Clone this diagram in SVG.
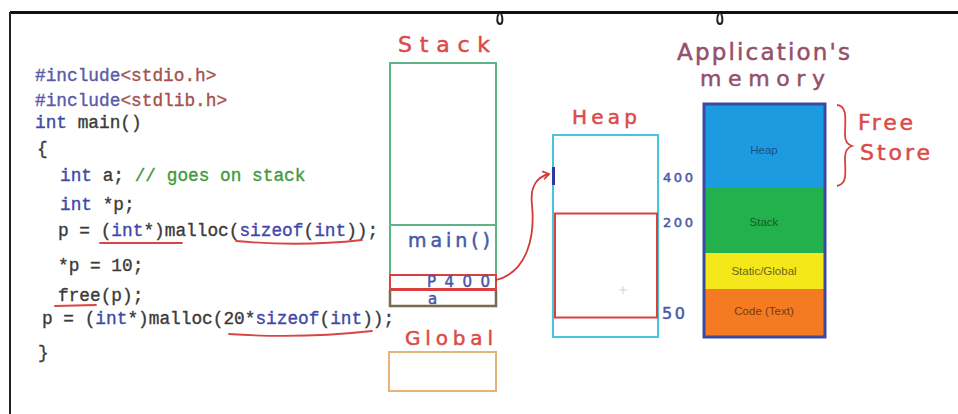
<svg xmlns="http://www.w3.org/2000/svg" width="958" height="414" viewBox="0 0 958 414">
<defs>
<style>
.code{font-family:"Liberation Mono","DejaVu Sans Mono",monospace;font-size:17.8px;fill:#3a3a3a;stroke:#3a3a3a;stroke-width:0.35;}
.kw{fill:#3f48a8;stroke:#3f48a8;}
.pp{fill:#5a5aa8;stroke:#5a5aa8;}
.str{fill:#a5524e;stroke:#a5524e;}
.cm{fill:#3f9a3f;stroke:#3f9a3f;}
.hand{font-family:"DejaVu Sans","Liberation Sans",sans-serif;stroke-width:0.5;}
.red{fill:#dc4a46;stroke:#dc4a46;}
.blue{fill:#4a58a8;stroke:#4a58a8;}
.ul{fill:none;stroke:#d84545;stroke-width:1.8;stroke-linecap:round;}
.seg{font-family:"Liberation Sans",Arial,sans-serif;font-size:11.5px;text-anchor:middle;}
</style>
<marker id="ah" markerWidth="10" markerHeight="10" refX="7" refY="5" orient="auto" markerUnits="userSpaceOnUse">
<path d="M1,1 L7,5 L1,9" fill="none" stroke="#d03a3a" stroke-width="1.8"/>
</marker>
</defs>
<rect width="958" height="414" fill="#ffffff"/>
<g id="frame">
<line x1="10" y1="12.5" x2="958" y2="12.5" stroke="#111" stroke-width="3"/>
<line x1="10" y1="12" x2="10" y2="414" stroke="#222" stroke-width="2"/>
<path d="M499,13 C496,18 497,24 500,24 C503,24 503,18 501,13" fill="none" stroke="#222" stroke-width="2"/>
<path d="M719,13 C716,18 717,24 720,24 C723,24 723,18 721,13" fill="none" stroke="#222" stroke-width="2"/>
</g>
<g id="code" class="code">
<text x="35" y="81"><tspan class="pp">#include</tspan><tspan class="str">&lt;stdio.h&gt;</tspan></text>
<text x="35" y="106"><tspan class="pp">#include</tspan><tspan class="str">&lt;stdlib.h&gt;</tspan></text>
<text x="35" y="128"><tspan class="kw">int</tspan> main()</text>
<text x="37" y="154">{</text>
<text x="60" y="181"><tspan class="kw">int</tspan> a; <tspan class="cm">// goes on stack</tspan></text>
<text x="60" y="210"><tspan class="kw">int</tspan> *p;</text>
<text x="58" y="236">p = (<tspan class="kw">int</tspan>*)malloc(<tspan class="kw">sizeof</tspan>(<tspan class="kw">int</tspan>));</text>
<text x="58" y="271">*p = 10;</text>
<text x="58" y="301">free(p);</text>
<text x="42" y="324">p = (<tspan class="kw">int</tspan>*)malloc(20*<tspan class="kw">sizeof</tspan>(<tspan class="kw">int</tspan>));</text>
<text x="38" y="358">}</text>
<path class="ul" d="M100,243 L182,243"/>
<path class="ul" d="M236,241 Q300,247 362,240"/>
<path class="ul" d="M55,306 L96,305"/>
<path class="ul" d="M229,334 Q300,339 372,331"/>
</g>
<g id="stack">
<text class="hand red" x="398" y="52" font-size="22" textLength="92" lengthAdjust="spacing">Stack</text>
<rect x="390" y="63" width="106" height="243" fill="none" stroke="#5fb486" stroke-width="2"/>
<line x1="390" y1="225" x2="496" y2="225" stroke="#5fb486" stroke-width="2"/>
<text class="hand blue" x="408" y="247" font-size="19" textLength="82" lengthAdjust="spacing">main()</text>
<rect x="390" y="275" width="106" height="14" fill="none" stroke="#d9403e" stroke-width="2"/>
<line x1="390" y1="289.5" x2="496" y2="289.5" stroke="#d9403e" stroke-width="3"/>
<text class="hand blue" x="427" y="287" font-size="15" textLength="63" lengthAdjust="spacing">P400</text>
<text class="hand blue" x="428" y="304" font-size="15">a</text>
<path d="M390,290 L390,306 L496,306 L496,290" fill="none" stroke="#7a6a4e" stroke-width="2.5"/>
</g>
<g id="global">
<text class="hand red" x="405" y="345" font-size="20" textLength="88" lengthAdjust="spacing">Global</text>
<rect x="389" y="352" width="107" height="39" fill="none" stroke="#e9b27a" stroke-width="2"/>
</g>
<g id="heap">
<text class="hand red" x="572" y="124" font-size="20" textLength="65" lengthAdjust="spacing">Heap</text>
<rect x="553" y="135" width="105" height="202" fill="none" stroke="#45c6dc" stroke-width="2"/>
<rect x="555" y="213.5" width="102" height="104" fill="none" stroke="#d9403e" stroke-width="2"/>
<line x1="553.5" y1="167" x2="553.5" y2="185" stroke="#2c3c98" stroke-width="3"/>
<text class="hand blue" x="663" y="182" font-size="13" textLength="30" lengthAdjust="spacing">400</text>
<text class="hand blue" x="663" y="227" font-size="13" textLength="30" lengthAdjust="spacing">200</text>
<text class="hand blue" x="662" y="319" font-size="16" textLength="23" lengthAdjust="spacing">50</text>
<path d="M619,290 h8 M623,286 v8" stroke="#cfcfcf" stroke-width="1"/>
</g>
<g id="app-memory">
<text class="hand" fill="#94506a" stroke="#94506a" x="677" y="60" font-size="23" textLength="173" lengthAdjust="spacing">Application's</text>
<text class="hand" fill="#94506a" stroke="#94506a" x="700" y="86" font-size="22" textLength="125" lengthAdjust="spacing">memory</text>
<rect x="704" y="104" width="121" height="83" fill="#1d9be0"/>
<rect x="704" y="187" width="121" height="66" fill="#22b14c"/>
<rect x="704" y="253" width="121" height="36" fill="#f5e81a"/>
<rect x="704" y="289" width="121" height="48" fill="#f47b22"/>
<rect x="704" y="104" width="121" height="233" fill="none" stroke="#3b4aa0" stroke-width="3"/>
<text class="seg" x="764" y="154" fill="#1f4f80">Heap</text>
<text class="seg" x="764" y="226" fill="#1a5a2a">Stack</text>
<text class="seg" x="764" y="275" fill="#6a6420">Static/Global</text>
<text class="seg" x="764" y="315" fill="#7a3a10">Code (Text)</text>
<path d="M837,105 C848,106 845,120 845,135 C845,142 849,145 852,146 C849,147 845,150 845,158 C845,172 848,184 837,186" fill="none" stroke="#d9403e" stroke-width="1.8"/>
<text class="hand red" x="858" y="130" font-size="22" textLength="55" lengthAdjust="spacing">Free</text>
<text class="hand red" x="860" y="160" font-size="22" textLength="70" lengthAdjust="spacing">Store</text>
</g>
<g id="connectors">
<path d="M496,280 C528,272 535,235 532,205 C530,188 536,177 549,174" fill="none" stroke="#d03a3a" stroke-width="1.8" marker-end="url(#ah)"/>
</g>
</svg>
